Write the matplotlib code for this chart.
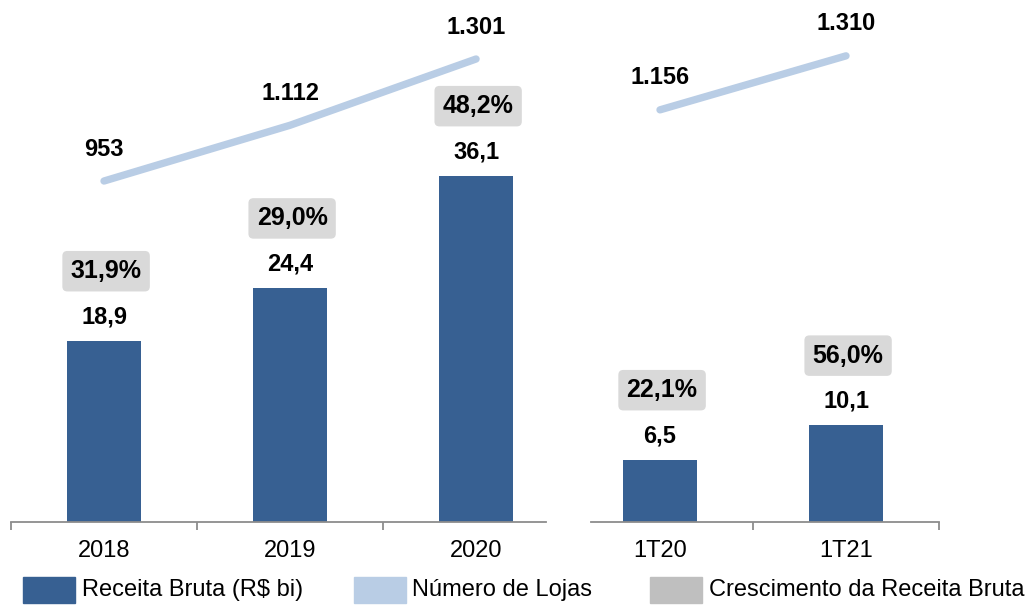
import matplotlib
matplotlib.use("Agg")
import matplotlib.pyplot as plt
from matplotlib.patches import Rectangle

plt.rcParams['font.family'] = ['Liberation Sans', 'DejaVu Sans']

# dados
anos = ['2018', '2019', '2020']
receita_anos = [18.9, 24.4, 36.1]
lojas_anos = [953, 1112, 1301]
cresc_anos = ['31,9%', '29,0%', '48,2%']

trimestres = ['1T20', '1T21']
receita_tri = [6.5, 10.1]
lojas_tri = [1156, 1310]
cresc_tri = ['22,1%', '56,0%']

legenda = ['Receita Bruta (R$ bi)', 'Número de Lojas', 'Crescimento da Receita Bruta']

cor_barra = '#376092'
cor_linha = '#b9cde5'
cor_caixa = '#d9d9d9'
cor_leg_cinza = '#bfbfbf'
cor_eixo = '#8c8c8c'

W, H = 1030, 606
fig = plt.figure(figsize=(W / 100, H / 100), dpi=100)

def fmt(v):
    return ('%.1f' % v).replace('.', ',')

def fmt_lojas(v):
    return '{:,}'.format(v).replace(',', '.')

def painel(x0, x1, xlim, cats, receita, lojas, cresc, ticks):
    ax = fig.add_axes([x0 / W, 1 - 522 / H, (x1 - x0) / W, 522 / H])
    pos = list(range(len(cats)))
    ax.bar(pos, receita, width=0.4, color=cor_barra, zorder=2)
    ax.set_xlim(*xlim)
    ax.set_ylim(0, 54.4)
    for s in ['top', 'left', 'right']:
        ax.spines[s].set_visible(False)
    ax.spines['bottom'].set_color(cor_eixo)
    ax.spines['bottom'].set_linewidth(1.3)
    ax.set_yticks([])
    ax.set_xticks(ticks)
    ax.set_xticklabels([])
    ax.tick_params(axis='x', which='major', length=6, width=1.3, color=cor_eixo, direction='out')
    ax.set_xticks(pos, minor=True)
    ax.set_xticklabels(cats, minor=True, fontsize=17)
    ax.tick_params(axis='x', which='minor', length=0, pad=13)
    for p, v, c in zip(pos, receita, cresc):
        ax.annotate(fmt(v), (p, v), xytext=(0, 17), textcoords='offset points',
                    ha='center', va='center', fontsize=17, fontweight='bold')
        ax.annotate(c, (p, v), xytext=(1.5, 50), textcoords='offset points',
                    ha='center', va='center', fontsize=18, fontweight='bold',
                    bbox=dict(boxstyle='round,pad=0.33,rounding_size=0.2', fc=cor_caixa, ec='none'))
    ax2 = ax.twinx()
    ax2.plot(pos, lojas, color=cor_linha, lw=5.3, solid_capstyle='round', zorder=3)
    ax2.set_ylim(-19.6, 1469.3)
    ax2.set_xlim(*xlim)
    ax2.axis('off')
    for p, v in zip(pos, lojas):
        ax2.annotate(fmt_lojas(v), (p, v), xytext=(0, 23), textcoords='offset points',
                     ha='center', va='center', fontsize=17, fontweight='bold')
    return ax

painel(11, 546, (-0.5, 2.376), anos, receita_anos, lojas_anos, cresc_anos, [-0.5, 0.5, 1.5])
painel(591, 939, (-0.371, 1.5), trimestres, receita_tri, lojas_tri, cresc_tri, [0.5, 1.5])

# legenda manual
cores_leg = [cor_barra, cor_linha, cor_leg_cinza]
sw_x = [23, 354, 650]
tx_x = [82, 412, 709]
for c, sx, tx, lab in zip(cores_leg, sw_x, tx_x, legenda):
    fig.patches.append(Rectangle((sx / W, 1 - 603 / H), 52 / W, 26 / H,
                                 transform=fig.transFigure, color=c))
    fig.text(tx / W, 1 - 590 / H, lab, fontsize=17, va='center', ha='left')

fig.savefig('out.png', dpi=100)
